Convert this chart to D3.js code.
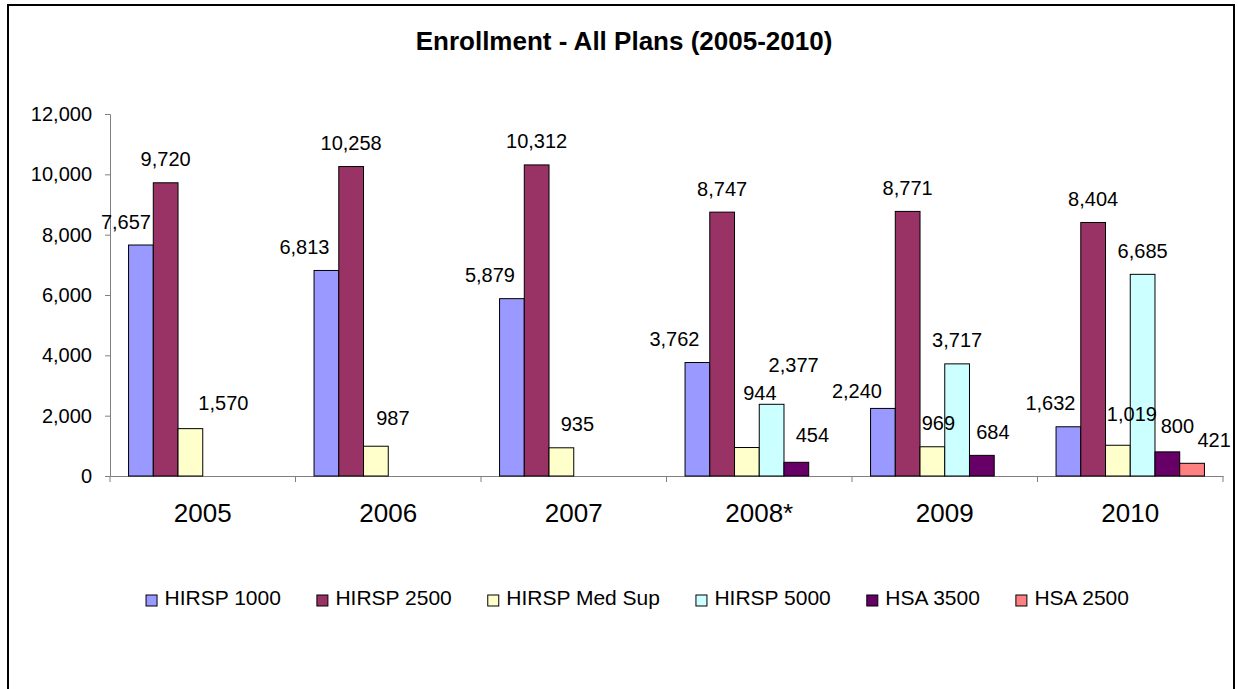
<!DOCTYPE html>
<html>
<head>
<meta charset="utf-8">
<script src="https://cdn.jsdelivr.net/npm/d3@7"></script>
<style>
  body { margin: 0; background: #fff; }
  svg { display: block; font-family: "Liberation Sans", Arial, sans-serif; }
  .axis path, .axis line { stroke: #808080; }
  .axis text { fill: #000; }
</style>
</head>
<body>
<div id="chart"></div>
<script>
// data
var years = ["2005", "2006", "2007", "2008*", "2009", "2010"];
var seriesNames = ["HIRSP 1000", "HIRSP 2500", "HIRSP Med Sup", "HIRSP 5000", "HSA 3500", "HSA 2500"];
var hirsp1000 = [7657, 6813, 5879, 3762, 2240, 1632];
var hirsp2500 = [9720, 10258, 10312, 8747, 8771, 8404];
var hirspMedSup = [1570, 987, 935, 944, 969, 1019];
var hirsp5000 = [null, null, null, 2377, 3717, 6685];
var hsa3500 = [null, null, null, 454, 684, 800];
var hsa2500 = [null, null, null, null, null, 421];
var yTicks = [0, 2000, 4000, 6000, 8000, 10000, 12000];

var colors = ["#9999ff", "#993366", "#ffffcc", "#ccffff", "#660066", "#ff8080"];
// hand-moved data labels in the original (dx, dy from the default spot)
var labelNudge = [
  [[-15, 0], [-22, 0], [-22, 0], [-23, 0], [-26, 6], [-18, 0]],
  [[0, 0], [0, 0], [0, 0], [0, 0], [0, 0], [0, 0]],
  [[33, -2], [17, -5], [16, 0], [13, -31], [6, 0], [14, -8]],
  [[0, 0], [0, 0], [0, 0], [22, -16], [0, 0], [0, 0]],
  [[0, 0], [0, 0], [0, 0], [16, -4], [11, 0], [10, -2]],
  [[0, 0], [0, 0], [0, 0], [0, 0], [0, 0], [22, 0]]
];

var allSeries = [hirsp1000, hirsp2500, hirspMedSup, hirsp5000, hsa3500, hsa2500];

var width = 1238, height = 689;
var svg = d3.select("#chart").append("svg")
  .attr("width", width)
  .attr("height", height);

// chart frame
svg.append("rect")
  .attr("x", 8).attr("y", 5)
  .attr("width", 1226).attr("height", 720)
  .attr("fill", "#fff")
  .attr("stroke", "#000")
  .attr("stroke-width", 2);

svg.append("text")
  .attr("x", 624).attr("y", 50)
  .attr("text-anchor", "middle")
  .attr("font-size", 26)
  .attr("font-weight", "bold")
  .text("Enrollment - All Plans (2005-2010)");

var x0 = d3.scaleBand().domain(years).range([110, 1223]).padding(0);
var x1 = d3.scaleBand().domain(d3.range(seriesNames.length))
  .range([0, x0.bandwidth()]).paddingInner(0).paddingOuter(0.75);
var y = d3.scaleLinear().domain([0, 12000]).range([476, 114]);
var fmt = d3.format(",");

// y axis
svg.append("g")
  .attr("class", "axis")
  .attr("transform", "translate(110,0)")
  .call(d3.axisLeft(y).tickValues(yTicks).tickFormat(fmt).tickSizeOuter(0).tickSize(5).tickPadding(13))
  .call(function(g) { g.selectAll("text").attr("font-size", 20).attr("font-family", null); });

// x axis: labels centered, ticks on the group boundaries
var xg = svg.append("g")
  .attr("class", "axis")
  .attr("transform", "translate(0,476)")
  .call(d3.axisBottom(x0).tickSize(0).tickSizeOuter(0).tickPadding(28))
  .call(function(g) { g.selectAll("text").attr("font-size", 26).attr("font-family", null); });

xg.selectAll(".sep")
  .data(years.concat(["end"]))
  .enter().append("line")
  .attr("class", "sep")
  .attr("x1", function(d, i) { return i < years.length ? x0(d) : x0.range()[1]; })
  .attr("x2", function(d, i) { return i < years.length ? x0(d) : x0.range()[1]; })
  .attr("y1", 0).attr("y2", 6);

// bars
var rows = [];
allSeries.forEach(function(vals, s) {
  vals.forEach(function(v, i) {
    if (v != null) rows.push({ s: s, year: years[i], i: i, v: v });
  });
});

svg.append("g")
  .selectAll("rect")
  .data(rows)
  .enter().append("rect")
  .attr("x", function(d) { return x0(d.year) + x1(d.s); })
  .attr("y", function(d) { return y(d.v); })
  .attr("width", x1.bandwidth())
  .attr("height", function(d) { return y(0) - y(d.v); })
  .attr("fill", function(d) { return colors[d.s]; })
  .attr("stroke", "#000")
  .attr("stroke-width", 1);

svg.append("g")
  .selectAll("text")
  .data(rows)
  .enter().append("text")
  .attr("x", function(d) { return x0(d.year) + x1(d.s) + x1.bandwidth() / 2 + labelNudge[d.s][d.i][0]; })
  .attr("y", function(d) { return y(d.v) - 16.5 + labelNudge[d.s][d.i][1]; })
  .attr("text-anchor", "middle")
  .attr("font-size", 20)
  .text(function(d) { return fmt(d.v); });

// legend
var legend = svg.append("g");
var items = legend.selectAll("g")
  .data(seriesNames)
  .enter().append("g");
items.append("rect")
  .attr("x", 0.5).attr("y", -10)
  .attr("width", 11).attr("height", 11)
  .attr("fill", function(d, i) { return colors[i]; })
  .attr("stroke", "#000");
items.append("text")
  .attr("x", 19).attr("y", 0)
  .attr("font-size", 21)
  .text(function(d) { return d; });

var pos = 0;
items.each(function() {
  var w = this.getBBox().width;
  d3.select(this).attr("data-x", pos);
  pos += w + 36;
});
var total = pos - 36;
var startX = 637 - total / 2;
items.attr("transform", function() {
  return "translate(" + (startX + (+this.getAttribute("data-x"))) + ",605)";
});
</script>
</body>
</html>
